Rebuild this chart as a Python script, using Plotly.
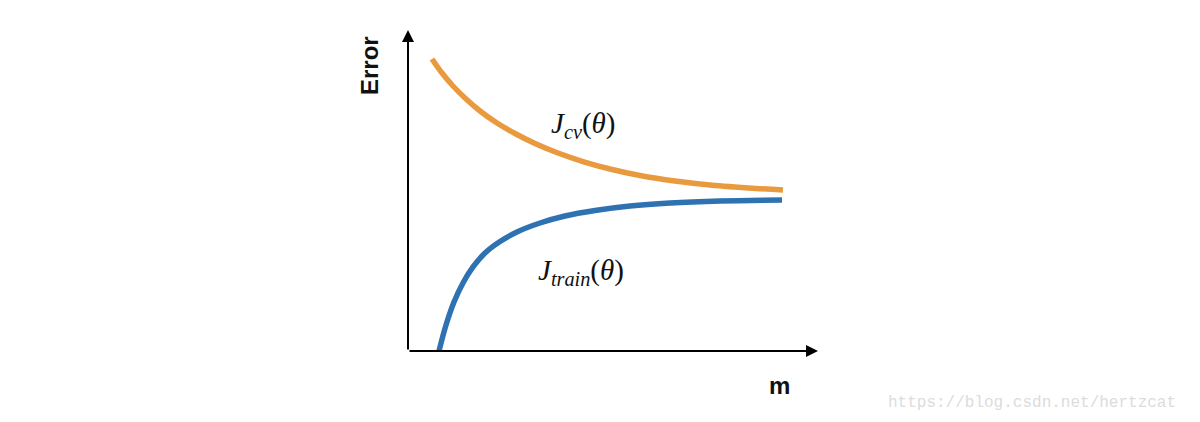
import plotly.graph_objects as go

# Training set size (m) and error values (axis units 0..10)
m_cv = [0.585, 0.829, 1.098, 1.390, 1.756, 2.171, 2.610, 3.098, 3.659, 4.268, 4.927, 5.659, 6.512, 7.488, 9.146]
err_cv = [9.097, 8.660, 8.255, 7.882, 7.477, 7.103, 6.776, 6.464, 6.168, 5.903, 5.670, 5.467, 5.296, 5.156, 5.016]

m_train = [0.756, 0.927, 1.122, 1.341, 1.585, 1.878, 2.244, 2.683, 3.220, 3.829, 4.561, 5.415, 6.390, 7.610, 9.122]
err_train = [0.0, 0.810, 1.526, 2.118, 2.617, 3.053, 3.411, 3.723, 3.988, 4.206, 4.377, 4.517, 4.611, 4.673, 4.704]

label_cv = "<i>J</i><sub><i>cv</i></sub>(<i>θ</i>)"
label_train = "<i>J</i><sub><i>train</i></sub>(<i>θ</i>)"
x_title = "<b>m</b>"
y_title = "<b>Error</b>"
watermark = "https://blog.csdn.net/hertzcat"

ORANGE = "#EA9A3E"
BLUE = "#2F72B2"

fig = go.Figure()
fig.add_trace(go.Scatter(x=m_cv, y=err_cv, mode="lines",
                         line=dict(color=ORANGE, width=5.5, shape="spline", smoothing=1.0),
                         hoverinfo="skip", showlegend=False, cliponaxis=False))
fig.add_trace(go.Scatter(x=m_train, y=err_train, mode="lines",
                         line=dict(color=BLUE, width=5.5, shape="spline", smoothing=1.0),
                         hoverinfo="skip", showlegend=False, cliponaxis=False))

# axis arrows
fig.add_annotation(x=10, y=0, ax=0, ay=0, xref="x", yref="y", axref="x", ayref="y",
                   showarrow=True, arrowhead=2, arrowsize=1.2, arrowwidth=2, arrowcolor="black", text="")
fig.add_annotation(x=0, y=10, ax=0, ay=0, xref="x", yref="y", axref="x", ayref="y",
                   showarrow=True, arrowhead=2, arrowsize=1.2, arrowwidth=2, arrowcolor="black", text="")

# labels
common = dict(xref="paper", yref="paper", showarrow=False, xanchor="center", yanchor="middle")
fig.add_annotation(x=0.427, y=0.704, text=label_cv,
                   font=dict(family="Liberation Serif", size=29, color="#111"), **common)
fig.add_annotation(x=0.422, y=0.246, text=label_train,
                   font=dict(family="Liberation Serif", size=29, color="#111"), **common)
fig.add_annotation(x=-0.0927, y=0.891, text=y_title, textangle=-90,
                   font=dict(family="Liberation Sans", size=24, color="#111"), **common)
fig.add_annotation(x=0.905, y=-0.106, text=x_title,
                   font=dict(family="Liberation Sans", size=24, color="#111"), **common)
fig.add_annotation(x=1.522, y=-0.162, text=watermark,
                   font=dict(family="Liberation Mono", size=16, color="#DCDCDC"), **common)

fig.update_xaxes(range=[0, 10], visible=False, fixedrange=True)
fig.update_yaxes(range=[0, 10], visible=False, fixedrange=True)
fig.update_layout(width=1200, height=422, margin=dict(l=400, r=390, t=22, b=79),
                  plot_bgcolor="white", paper_bgcolor="white")
fig.write_html("out.html")
